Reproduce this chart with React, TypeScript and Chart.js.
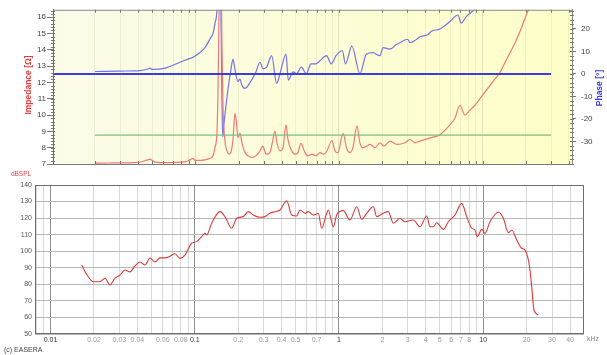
import React, { useEffect, useRef } from 'react';
import { Chart, registerables } from 'chart.js';
Chart.register(...registerables);

const FONT = '"Liberation Sans", Arial, Helvetica, sans-serif';

// ---------- Data (frequency in kHz) ----------
const impedanceData: [number, number][] = [
  [0.02, 7.05], [0.025, 7.06], [0.03, 7.07], [0.035, 7.07], [0.04, 7.1], [0.0446, 7.2], [0.0483, 7.28],
  [0.0523, 7.12], [0.0615, 7.08], [0.0721, 7.1], [0.0847, 7.13], [0.0917, 7.25], [0.0963, 7.34], [0.1, 7.22],
  [0.1077, 7.22], [0.1167, 7.25], [0.1265, 7.35], [0.1327, 7.5], [0.137, 8.0], [0.1415, 9.0], [0.1438, 11.5],
  [0.1461, 16], [0.1484, 19], [0.1508, 19], [0.1533, 14], [0.1558, 10.5], [0.1608, 8.4], [0.166, 7.8],
  [0.1715, 7.6], [0.178, 7.8], [0.1829, 8.5], [0.1888, 10.1], [0.1935, 9.5], [0.198, 8.6], [0.2045, 8.9],
  [0.2112, 8.3], [0.2217, 7.7], [0.2326, 7.5], [0.2479, 7.4], [0.2645, 7.5], [0.2819, 7.8], [0.2958, 8.1],
  [0.304, 7.8], [0.3103, 7.6], [0.3309, 7.7], [0.3417, 8.2], [0.3586, 9.0], [0.3704, 8.3], [0.3886, 7.8],
  [0.4078, 8.0], [0.4279, 9.4], [0.4418, 8.5], [0.4633, 7.9], [0.4941, 7.6], [0.5184, 7.7], [0.544, 8.26],
  [0.58, 7.7], [0.6088, 7.5], [0.6491, 7.6], [0.6922, 7.5], [0.738, 7.7], [0.7867, 7.6], [0.8253, 7.8],
  [0.8945, 8.44], [0.9384, 7.8], [0.9844, 7.7], [1.067, 8.88], [1.137, 7.9], [1.193, 7.7], [1.252, 8.0],
  [1.335, 9.34], [1.4, 8.3], [1.469, 8.0], [1.567, 8.1], [1.645, 8.2], [1.782, 8.0], [1.93, 8.3],
  [2.058, 8.1], [2.267, 8.4], [2.536, 8.2], [2.883, 8.3], [3.124, 8.5], [3.385, 8.3], [3.668, 8.4],
  [4.303, 8.6], [5.051, 8.8], [5.928, 9.4], [6.423, 9.8], [6.958, 10.6], [7.539, 10.0], [8.17, 10.3],
  [8.851, 10.6], [9.588, 11.0], [10.39, 11.4], [11.26, 11.8], [12.2, 12.2], [13.21, 12.6], [14.31, 13.2],
  [15.51, 13.8], [16.8, 14.4], [18.2, 15.1], [19.72, 15.9], [21.36, 16.7], [23.14, 17.6],
];

const phaseData: [number, number][] = [
  [0.02, 1.1], [0.03, 1.3], [0.041, 1.5], [0.0468, 2.2], [0.0483, 2.6], [0.05, 2.0], [0.0615, 2.6],
  [0.078, 5.2], [0.0917, 6.9], [0.0963, 7.4], [0.1077, 9.5], [0.1167, 11.7], [0.1265, 15.6], [0.1327, 18],
  [0.137, 22.5], [0.1415, 29], [0.1438, 45], [0.1484, 60], [0.1508, 28], [0.1533, -12], [0.155, -28],
  [0.1583, -22], [0.1608, -18], [0.1687, -7], [0.177, 2], [0.1829, 6.6], [0.1888, 2], [0.198, -3.4],
  [0.2045, -2.2], [0.2101, -4.8], [0.2217, -6.4], [0.2468, -2.6], [0.2645, 1], [0.2819, 5.2], [0.2958, 2.3],
  [0.3134, 3], [0.34, 8.1], [0.3685, -4.2], [0.3886, 0.1], [0.4279, 8.8], [0.444, -2.7], [0.48, 0.9],
  [0.506, 0.1], [0.548, 3], [0.592, 0.1], [0.639, 4.5], [0.69, 4.5], [0.738, 5.9], [0.819, 8.1],
  [0.884, 4.5], [0.954, 8.1], [1.056, 10.3], [1.112, 4.5], [1.231, 12.4], [1.4, 0.1], [1.552, 8.8],
  [1.72, 9.5], [1.93, 8.1], [2.03, 11.7], [2.267, 11], [2.51, 13.1], [2.661, 13.9], [2.95, 15.3],
  [3.024, 15.3], [3.124, 13.9], [3.46, 15.3], [3.668, 16.5], [4.17, 17.5], [4.39, 18.9], [5.05, 20],
  [5.93, 23.3], [6.74, 26.2], [7.1, 22.6], [7.7, 25.5], [8.85, 28.7], [9.59, 31],
];

const phaseZeroLine: [number, number][] = [[0.0102, 0], [30, 0]];
const referenceLine: [number, number][] = [[0.02, 8.77], [30, 8.77]];

const splData: [number, number][] = [
  [0.01644, 91.7], [0.01686, 89.7], [0.01825, 84.6], [0.01977, 81.6], [0.02202, 81.6], [0.02384, 83.7],
  [0.02581, 79.6], [0.02796, 83.7], [0.03029, 85.6], [0.03281, 88.7], [0.03553, 87.5], [0.03848, 91.1],
  [0.04169, 93.5], [0.04515, 91.7], [0.04891, 95.9], [0.05297, 93.5], [0.05737, 96], [0.06214, 96],
  [0.0673, 97], [0.0729, 98.5], [0.07896, 95.7], [0.08551, 97.7], [0.0952, 104.8], [0.1031, 105.8],
  [0.1117, 108.8], [0.1177, 110.8], [0.1209, 109.8], [0.131, 116.9], [0.1495, 123.9], [0.162, 120.9],
  [0.1803, 113.9], [0.1953, 119.9], [0.2169, 120.9], [0.235, 123.9], [0.2545, 121.9], [0.2832, 120.5],
  [0.3068, 120.9], [0.3323, 122.9], [0.3599, 123.9], [0.3898, 124.9], [0.4339, 130.5], [0.4699, 121.9],
  [0.509, 121.3], [0.5364, 124.9], [0.581, 122.9], [0.6126, 123.9], [0.6635, 121.9], [0.7187, 122.9],
  [0.7586, 113.9], [0.8217, 122.9], [0.8429, 124.9], [0.913, 114.8], [0.9638, 121.9], [1.071, 124.5],
  [1.192, 118.9], [1.327, 126.9], [1.437, 119.3], [1.556, 122.9], [1.73, 126.9], [1.826, 120.9],
  [2.029, 122.9], [2.198, 123.9], [2.381, 116.9], [2.649, 119.9], [2.869, 117.8], [3.276, 118.9],
  [3.646, 114.8], [4.057, 121.3], [4.277, 114.8], [4.509, 114.8], [4.76, 117.2], [5.288, 113.2],
  [5.728, 117.8], [6.375, 121.9], [7.094, 128.9], [7.685, 120.9], [8.324, 113.9], [8.774, 112.8],
  [9.104, 108.8], [9.763, 113.2], [10.29, 110.8], [11.15, 117.8], [12.73, 123.5], [13.79, 119.9],
  [14.94, 111.2], [15.77, 112.8], [17.08, 106.8], [18.49, 101.8], [19.5, 100.7], [20.88, 91.7],
  [21.69, 78.6], [22.5, 64.5], [24.11, 61.5],
];

// ---------- Axes / ticks ----------
const topGridFreqs = [
  0.02, 0.03, 0.04, 0.05, 0.06, 0.07, 0.08, 0.09, 0.1, 0.2, 0.3, 0.4, 0.5, 0.6, 0.7, 0.8, 0.9,
  1, 2, 3, 4, 5, 6, 7, 8, 9, 10, 20, 30, 40,
];
const bottomGridFreqs = [
  0.008, 0.009, 0.01, 0.02, 0.03, 0.04, 0.05, 0.06, 0.07, 0.08, 0.09, 0.1, 0.2, 0.3, 0.4, 0.5, 0.6, 0.7,
  0.8, 0.9, 1, 2, 3, 4, 5, 6, 7, 8, 9, 10, 20, 30, 40,
];
const bottomTickLabels = [
  '0.01', '0.02', '0.03', '0.04', '0.06', '0.08', '0.1', '0.2', '0.3', '0.4', '0.5', '0.7',
  '1', '2', '3', '4', '5', '6', '7', '8', '10', '20', '30', '40',
];
const decades = [0.01, 0.1, 1, 10];
const impedanceTicks = [7, 8, 9, 10, 11, 12, 13, 14, 15, 16];
const phaseTicks = [-30, -20, -10, 0, 10, 20];
const splTicks = [50, 60, 70, 80, 90, 100, 110, 120, 130, 140];

const near = (a: number, b: number) => Math.abs(a / b - 1) < 1e-6;
const isDecade = (v: number) => decades.some((d) => near(v, d));
const toPts = (arr: [number, number][]) => arr.map(([x, y]) => ({ x, y }));

const topPlugin = {
  id: 'topDecor',
  beforeDraw(chart: any) {
    const { ctx, chartArea: a } = chart;
    const g = ctx.createLinearGradient(a.left, 0, a.right, 0);
    g.addColorStop(0, '#fbfbe9');
    g.addColorStop(0.55, '#fdfdd6');
    g.addColorStop(1, '#fefec8');
    ctx.save();
    ctx.fillStyle = g;
    ctx.fillRect(a.left, a.top, a.right - a.left, a.bottom - a.top);
    ctx.restore();
  },
  afterDraw(chart: any) {
    const { ctx, chartArea: a, scales } = chart;
    ctx.save();
    ctx.strokeStyle = '#8a8a8a';
    ctx.lineWidth = 1;
    ctx.beginPath();
    ctx.moveTo(a.left, a.top + 0.5);
    ctx.lineTo(a.right, a.top + 0.5);
    ctx.stroke();
    ctx.strokeStyle = '#777';
    ctx.beginPath();
    for (const f of topGridFreqs) {
      const px = Math.round(scales.x.getPixelForValue(f)) + 0.5;
      ctx.moveTo(px, a.top);
      ctx.lineTo(px, a.top + 3);
      ctx.moveTo(px, a.bottom - 3);
      ctx.lineTo(px, a.bottom);
    }
    // minor ticks on the value axes
    for (let v = 7; v <= 16.45; v += 0.2) {
      const py = Math.round(scales.y.getPixelForValue(v)) + 0.5;
      ctx.moveTo(a.left - 2, py);
      ctx.lineTo(a.left + 2, py);
    }
    for (let v = -40; v <= 28; v += 2) {
      const py = Math.round(scales.y1.getPixelForValue(v)) + 0.5;
      ctx.moveTo(a.right - 2, py);
      ctx.lineTo(a.right + 2, py);
    }
    ctx.stroke();
    ctx.textAlign = 'center';
    ctx.textBaseline = 'middle';
    ctx.save();
    ctx.translate(29, 85);
    ctx.rotate(-Math.PI / 2);
    ctx.fillStyle = '#e23c3c';
    ctx.font = `bold 8.5px ${FONT}`;
    ctx.fillText('Impedance [Ω]', 0, 0);
    ctx.restore();
    ctx.save();
    ctx.translate(600, 88);
    ctx.rotate(-Math.PI / 2);
    ctx.fillStyle = '#3a3ae0';
    ctx.font = `bold 8.5px ${FONT}`;
    ctx.fillText('Phase [°]', 0, 0);
    ctx.restore();
    ctx.restore();
  },
};

const bottomPlugin = {
  id: 'bottomDecor',
  afterDraw(chart: any) {
    const { ctx, chartArea: a } = chart;
    ctx.save();
    ctx.strokeStyle = '#6e6e6e';
    ctx.lineWidth = 1;
    ctx.strokeRect(a.left + 0.5, a.top + 0.5, a.right - a.left - 1, a.bottom - a.top - 1);
    ctx.textBaseline = 'middle';
    ctx.fillStyle = '#e04545';
    ctx.font = `6.5px ${FONT}`;
    ctx.textAlign = 'center';
    ctx.fillText('dBSPL', 21, 174);
    ctx.fillStyle = '#888';
    ctx.font = `7px ${FONT}`;
    ctx.textAlign = 'left';
    ctx.fillText('kHz', 587, 339);
    ctx.fillStyle = '#444';
    ctx.font = `7px ${FONT}`;
    ctx.fillText('(c) EASERA', 4, 350);
    ctx.restore();
  },
};

export default function App() {
  const topRef = useRef<HTMLCanvasElement>(null);
  const botRef = useRef<HTMLCanvasElement>(null);

  useEffect(() => {
    document.body.style.margin = '0';
    const top = new Chart(topRef.current!, {
      type: 'line',
      data: {
        datasets: [
          { data: toPts(referenceLine), yAxisID: 'y', borderColor: '#7cc07c', borderWidth: 1.2, pointRadius: 0 },
          { data: toPts(phaseZeroLine), yAxisID: 'y1', borderColor: '#3c3cdc', borderWidth: 2, pointRadius: 0 },
          { data: toPts(impedanceData), yAxisID: 'y', borderColor: '#f07878', borderWidth: 1.2, pointRadius: 0, cubicInterpolationMode: 'monotone' },
          { data: toPts(phaseData), yAxisID: 'y1', borderColor: '#7474e4', borderWidth: 1.2, pointRadius: 0, cubicInterpolationMode: 'monotone' },
        ],
      } as any,
      options: {
        responsive: false,
        animation: false,
        events: [],
        layout: { padding: { top: 6, bottom: 191, left: 0, right: 0 } },
        plugins: { legend: { display: false }, tooltip: { enabled: false } },
        scales: {
          x: {
            type: 'logarithmic',
            min: 0.0102,
            max: 42,
            afterBuildTicks: (s: any) => { s.ticks = topGridFreqs.map((v) => ({ value: v })); },
            afterFit: (s: any) => { s.height = 0; },
            ticks: { display: false, autoSkip: false },
            grid: {
              drawTicks: false,
              color: (c: any) => (c.tick && isDecade(c.tick.value) ? 'rgba(130,130,100,0.22)' : 'rgba(150,150,110,0.12)'),
            },
            border: { display: true, color: '#7a7a7a' },
          },
          y: {
            position: 'left',
            min: 7,
            max: 16.45,
            afterBuildTicks: (s: any) => { s.ticks = impedanceTicks.map((v) => ({ value: v })); },
            afterFit: (s: any) => { s.width = 53; },
            ticks: { color: '#444', font: { size: 8, family: FONT }, padding: 1, autoSkip: false },
            grid: { drawOnChartArea: false, drawTicks: true, tickLength: 6, color: '#777' },
            border: { display: true, color: '#6a6a6a' },
          },
          y1: {
            position: 'right',
            min: -40,
            max: 28.5,
            afterBuildTicks: (s: any) => { s.ticks = phaseTicks.map((v) => ({ value: v })); },
            afterFit: (s: any) => { s.width = 35; },
            ticks: { color: '#444', font: { size: 8, family: FONT }, padding: 5, autoSkip: false },
            grid: { drawOnChartArea: false, drawTicks: true, tickLength: 4, color: '#777' },
            border: { display: true, color: '#8a8a8a' },
          },
        },
      } as any,
      plugins: [topPlugin],
    });

    const bottom = new Chart(botRef.current!, {
      type: 'line',
      data: {
        datasets: [
          { data: toPts(splData), borderColor: '#dc3a3a', borderWidth: 1.1, pointRadius: 0, cubicInterpolationMode: 'monotone' },
        ],
      } as any,
      options: {
        responsive: false,
        animation: false,
        events: [],
        layout: { padding: { top: 185, bottom: 0, left: 0, right: 23 } },
        plugins: { legend: { display: false }, tooltip: { enabled: false } },
        scales: {
          x: {
            type: 'logarithmic',
            min: 0.0078,
            max: 50,
            afterBuildTicks: (s: any) => { s.ticks = bottomGridFreqs.map((v) => ({ value: v })); },
            afterFit: (s: any) => { s.height = 21; },
            ticks: {
              autoSkip: false,
              maxRotation: 0,
              padding: 2,
              font: { size: 7, family: FONT },
              color: (c: any) => (c.tick && isDecade(c.tick.value) ? '#333' : '#9a9a9a'),
              callback: (value: any) => {
                const lab = bottomTickLabels.find((l) => near(parseFloat(l), Number(value)));
                return lab ?? '';
              },
            },
            grid: {
              drawTicks: false,
              color: (c: any) => (c.tick && isDecade(c.tick.value) ? '#8e8e8e' : '#d8d8d8'),
            },
            border: { display: false },
          },
          y: {
            min: 50,
            max: 140,
            afterBuildTicks: (s: any) => { s.ticks = splTicks.map((v) => ({ value: v })); },
            afterFit: (s: any) => { s.width = 35; },
            ticks: { color: '#555', font: { size: 7, family: FONT }, padding: 3, autoSkip: false },
            grid: { drawTicks: false, color: '#b8b8b8' },
            border: { display: false },
          },
        },
      } as any,
      plugins: [bottomPlugin],
    });

    return () => {
      top.destroy();
      bottom.destroy();
    };
  }, []);

  return (
    <div style={{ position: 'fixed', left: 0, top: 0, width: 607, height: 355, background: '#fff' }}>
      <canvas ref={topRef} width={607} height={355} style={{ position: 'absolute', left: 0, top: 0 }} />
      <canvas ref={botRef} width={607} height={355} style={{ position: 'absolute', left: 0, top: 0 }} />
    </div>
  );
}
